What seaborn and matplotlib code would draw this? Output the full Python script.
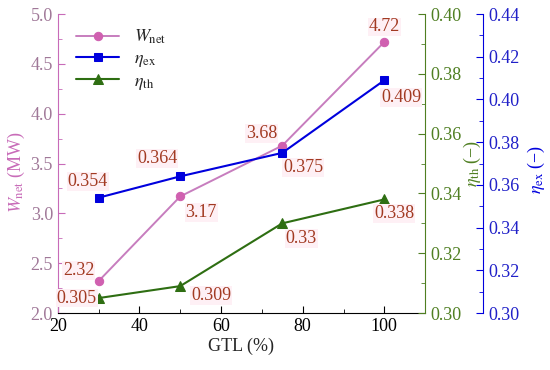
import numpy as np
import pandas as pd
import matplotlib
matplotlib.use("Agg")
import matplotlib.pyplot as plt
import seaborn as sns
from matplotlib.ticker import MultipleLocator

# ── data ────────────────────────────────────────────────────────────────────
gtl = [30, 50, 75, 100]
w_net = [2.32, 3.17, 3.68, 4.72]
eta_ex = [0.354, 0.364, 0.375, 0.409]
eta_th = [0.305, 0.309, 0.33, 0.338]

w_labels = ["2.32", "3.17", "3.68", "4.72"]
ex_labels = ["0.354", "0.364", "0.375", "0.409"]
th_labels = ["0.305", "0.309", "0.33", "0.338"]

df = pd.DataFrame({"GTL": gtl, "W": w_net, "ex": eta_ex, "th": eta_th})

sns.set_style("ticks")
plt.rcParams["font.family"] = ["Liberation Serif", "DejaVu Serif"]
plt.rcParams["mathtext.fontset"] = "stix"
plt.rcParams["font.size"] = 13

PINK = "#C77DBE"
PINK_AX = "#C86BB8"
BLUE = "#0000DD"
GREEN = "#2E6E12"
GREEN_AX = "#4F7F22"
TXT = "#A23A22"

fig = plt.figure(figsize=(5.5, 3.7), dpi=100)
ax = fig.add_axes([0.105, 0.154, 0.668, 0.808])
ax_th = ax.twinx()
ax_ex = ax.twinx()
ax_ex.spines["right"].set_position(("axes", 1.158))

sns.lineplot(data=df, x="GTL", y="W", ax=ax, color=PINK, marker="o",
             markersize=6, markerfacecolor="#D060B0", markeredgecolor="#D060B0",
             linewidth=1.4, label=r"$W_{\rm net}$", legend=False)
sns.lineplot(data=df, x="GTL", y="ex", ax=ax_ex, color=BLUE, marker="s",
             markersize=5.5, markeredgecolor=BLUE, linewidth=1.5,
             label=r"$\eta_{\rm ex}$", legend=False)
sns.lineplot(data=df, x="GTL", y="th", ax=ax_th, color=GREEN, marker="^",
             markersize=6.5, markeredgecolor=GREEN, linewidth=1.5,
             label=r"$\eta_{\rm th}$", legend=False)

# axes limits / ticks
ax.set_xlim(20, 110)
ax.set_ylim(2.0, 5.0)
ax_th.set_ylim(0.30, 0.40)
ax_ex.set_ylim(0.30, 0.44)
ax.xaxis.set_major_locator(MultipleLocator(20))
ax.xaxis.set_minor_locator(MultipleLocator(10))
ax.yaxis.set_major_locator(MultipleLocator(0.5))
ax.yaxis.set_minor_locator(MultipleLocator(0.25))
ax_th.yaxis.set_major_locator(MultipleLocator(0.02))
ax_th.yaxis.set_minor_locator(MultipleLocator(0.01))
ax_ex.yaxis.set_major_locator(MultipleLocator(0.02))
ax_ex.yaxis.set_minor_locator(MultipleLocator(0.01))
ax.yaxis.set_major_formatter(matplotlib.ticker.FormatStrFormatter("%.1f"))
ax_th.yaxis.set_major_formatter(matplotlib.ticker.FormatStrFormatter("%.2f"))
ax_ex.yaxis.set_major_formatter(matplotlib.ticker.FormatStrFormatter("%.2f"))

for a in (ax, ax_th, ax_ex):
    a.spines["top"].set_visible(False)

ax.spines["right"].set_visible(False)
ax.spines["left"].set_color(PINK_AX)
ax.spines["bottom"].set_color("black")
ax_th.spines["right"].set_color(GREEN_AX)
ax_ex.spines["right"].set_color(BLUE)
for a in (ax_th, ax_ex):
    a.spines["left"].set_visible(False)
    a.spines["bottom"].set_visible(False)

ax.tick_params(axis="x", which="both", direction="in", colors="black", labelsize=13)
ax.tick_params(axis="x", which="major", length=5)
ax.tick_params(axis="x", which="minor", length=3)
ax.tick_params(axis="y", which="both", direction="in", colors=PINK_AX, labelcolor="#A07898", labelsize=13)
ax.tick_params(axis="y", which="major", length=5)
ax.tick_params(axis="y", which="minor", length=3)
ax_th.tick_params(axis="y", which="both", direction="in", colors=GREEN_AX, labelcolor=GREEN_AX, labelsize=13)
ax_th.tick_params(axis="y", which="major", length=5)
ax_th.tick_params(axis="y", which="minor", length=3)
ax_ex.tick_params(axis="y", which="both", direction="in", colors=BLUE, labelcolor="#2020C8", labelsize=13)
ax_ex.tick_params(axis="y", which="major", length=5)
ax_ex.tick_params(axis="y", which="minor", length=3)

ax.set_xlabel("GTL (%)", fontsize=13, labelpad=2)
ax.set_ylabel(r"$W_{\rm net}$ (MW)", color=PINK_AX, fontsize=13, labelpad=1)
ax_th.set_ylabel(r"$\eta_{\rm th}$ (−)", color=GREEN_AX, fontsize=13)
ax_ex.set_ylabel(r"$\eta_{\rm ex}$ (−)", color=BLUE, fontsize=13)
ax.yaxis.set_label_coords(-0.085, 0.47)
ax_th.yaxis.set_label_coords(1.10, 0.50)
ax_ex.yaxis.set_label_coords(1.275, 0.48)

# value labels
def label(a, xs, ys, texts, offsets):
    for xv, yv, t, off in zip(xs, ys, texts, offsets):
        a.annotate(t, (xv, yv), xytext=off, textcoords="offset pixels",
                   ha="center", va="center", color=TXT, fontsize=13,
                   bbox=dict(boxstyle="square,pad=0.05", fc="#FEF0F5", ec="none"))

label(ax, gtl, w_net, w_labels, [(-20, 11), (21, -16), (-21, 12), (0, 15)])
label(ax_ex, gtl, eta_ex, ex_labels, [(-11, 16), (-23, 18), (21, -15), (17, -17)])
label(ax_th, gtl, eta_th, th_labels, [(-22, 0), (31, -9), (19, -15), (10, -14)])

handles = []
for a in (ax, ax_ex, ax_th):
    handles += a.get_legend_handles_labels()[0]
labels = [h.get_label() for h in handles]
ax.legend(handles, labels, loc="upper left", bbox_to_anchor=(0.02, 0.99),
          frameon=False, fontsize=13, handlelength=2.4, labelspacing=0.2,
          borderaxespad=0.2)

fig.savefig("out.png", dpi=100)
